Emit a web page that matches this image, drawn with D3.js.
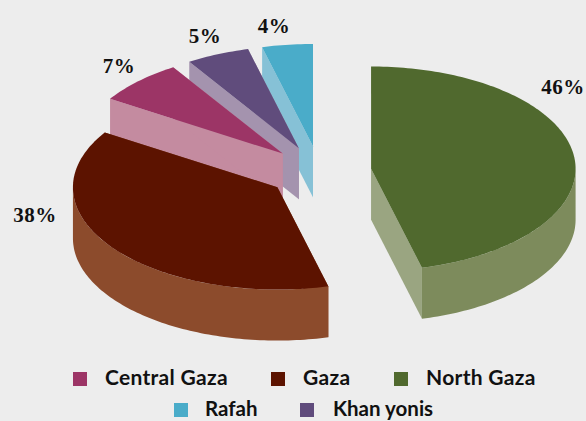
<!DOCTYPE html>
<meta charset="utf-8">
<style>
html, body { margin: 0; padding: 0; background: #ededed; }
svg { display: block; }
.pct { font: bold 21px "Liberation Serif", serif; letter-spacing: 0.5px; fill: #111; }
.leg { font: bold 21px "Lato", sans-serif; letter-spacing: 0.3px; fill: #111; }
.leg.low { font-size: 20.5px; letter-spacing: 0; }
</style>
<svg width="586" height="421"></svg>
<script src="https://d3js.org/d3.v7.min.js"></script>
<script>
var categories = ["North Gaza", "Gaza", "Central Gaza", "Khan yonis", "Rafah"];
var values = [46, 38, 7, 5, 4];
var labels = ["46%", "38%", "7%", "5%", "4%"];
var topColors = ["#50692e", "#5c1300", "#9c3566", "#604c7c", "#4aacc9"];
var rimColors = ["#7d8b5c", "#8c4b2c", "#c48ba0", "#a493ae", "#86c1d6"];
var cutColors = ["#9aa581", "#8c4b2c", "#c48ba0", "#a493ae", "#86c1d6"];
var legendOrder = ["Central Gaza", "Gaza", "North Gaza", "Rafah", "Khan yonis"];

var svg = d3.select("svg");

// pie geometry
var cx = 319.5, cy = 172, rx = 204.5, tilt = 0.5, depth = 51, explode = 52;

var pie = d3.pie().sort(null).value(function(d) { return d; });
var slices = pie(values);

// x,y of a point on the tilted plane, a is clockwise from 12 o'clock
function pt(c, r, a) {
  return [c[0] + r * Math.sin(a), c[1] - r * tilt * Math.cos(a)];
}
function sweep(c, a0, a1) {
  var n = Math.max(2, Math.ceil(Math.abs(a1 - a0) / 0.02)), out = [];
  for (var i = 0; i <= n; i++) out.push(pt(c, rx, a0 + (a1 - a0) * i / n));
  return out;
}
var line = d3.line().curve(d3.curveLinear);
function down(p) { return [p[0], p[1] + depth]; }

function drawSlice(d) {
  var i = d.index;
  var mid = (d.startAngle + d.endAngle) / 2;
  var c = pt([cx, cy], explode, mid);
  var g = svg.append("g");

  // the two cut faces
  [d.startAngle, d.endAngle].forEach(function(a) {
    var p = pt(c, rx, a);
    g.append("path")
      .attr("d", line([c, p, down(p), down(c)]) + "Z")
      .attr("fill", cutColors[i]);
  });

  // outer wall, only the part facing us (90deg to 270deg)
  var a0 = Math.max(d.startAngle, Math.PI / 2), a1 = Math.min(d.endAngle, Math.PI * 1.5);
  if (a1 > a0) {
    var arcPts = sweep(c, a0, a1);
    g.append("path")
      .attr("d", line(arcPts.concat(arcPts.map(down).reverse())) + "Z")
      .attr("fill", rimColors[i]);
  }

  // top
  g.append("path")
    .attr("d", line([c].concat(sweep(c, d.startAngle, d.endAngle))) + "Z")
    .attr("fill", topColors[i]);
}

// back slices first
[4, 3, 2, 1, 0].forEach(function(i) { drawSlice(slices[i]); });

// percent labels
var labelPos = [[563, 94], [35, 222], [119, 73], [205, 43], [274, 33]];
labels.forEach(function(t, i) {
  svg.append("text").attr("class", "pct")
    .attr("x", labelPos[i][0]).attr("y", labelPos[i][1])
    .attr("text-anchor", "middle").text(t);
});

// legend
var legendX = [[73, 105], [271, 303], [394, 426], [174, 205], [300, 333]];
legendOrder.forEach(function(name, k) {
  var i = categories.indexOf(name), row = k < 3 ? 0 : 1;
  var y = row ? 403 : 372;
  svg.append("rect").attr("x", legendX[k][0]).attr("y", y)
    .attr("width", 14).attr("height", 14).attr("fill", topColors[i]);
  svg.append("text").attr("class", row ? "leg low" : "leg")
    .attr("x", legendX[k][1]).attr("y", y + 13).text(name);
});
</script>
